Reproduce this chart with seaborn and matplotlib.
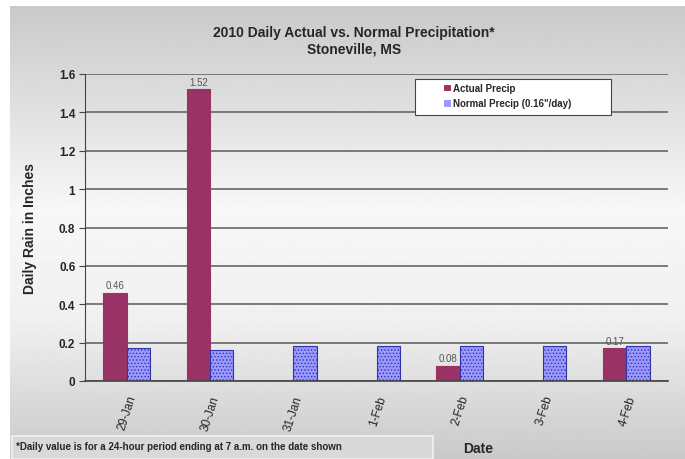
import numpy as np
import pandas as pd
import matplotlib
matplotlib.use("Agg")
import matplotlib.pyplot as plt
import seaborn as sns
from matplotlib.patches import Rectangle

dates = ['29-Jan', '30-Jan', '31-Jan', '1-Feb', '2-Feb', '3-Feb', '4-Feb']
actual = [0.46, 1.52, 0, 0, 0.08, 0, 0.17]
normal = [0.17, 0.16, 0.18, 0.18, 0.18, 0.18, 0.18]
series = ['Actual Precip', 'Normal Precip (0.16"/day)']
yticks = [0, 0.2, 0.4, 0.6, 0.8, 1, 1.2, 1.4, 1.6]

df = pd.DataFrame({
    'Date': dates * 2,
    'Rain': actual + normal,
    'Series': [series[0]] * len(dates) + [series[1]] * len(dates)
})

sns.set_style('white')
plt.rcParams['font.family'] = ['Liberation Sans', 'DejaVu Sans']
plt.rcParams['hatch.linewidth'] = 0.6
plt.rcParams['hatch.color'] = '#5555cc'

W, H = 685, 460
fig = plt.figure(figsize=(W / 100, H / 100), dpi=100)

# gray gradient background panel
bg = fig.add_axes([10 / W, 0, 1 - 10 / W, 1 - 7 / H])
rows = np.linspace(0, 1, 200)
shade = np.interp(rows, [0, 0.45, 0.7, 1], [0.79, 0.97, 0.94, 0.79])
bg.imshow(shade[:, None], aspect='auto', cmap='gray', vmin=0, vmax=1, extent=[0, 1, 0, 1])
bg.axis('off')

ax = fig.add_axes([85 / W, 1 - 382 / H, (668 - 85) / W, (382 - 75) / H])
ax.patch.set_alpha(0)

sns.barplot(data=df, x='Date', y='Rain', hue='Series', palette=['#993366', '#9999ff'],
            width=0.56, gap=0, saturation=1, ax=ax, linewidth=0.8)

for p in ax.containers[0]:
    p.set_edgecolor('#993366')
for p in ax.containers[1]:
    p.set_edgecolor('#3333aa')
    p.set_hatch('.....')

ax.bar_label(ax.containers[0], labels=[f'{v:.2f}' if v > 0 else '' for v in actual],
             fontsize=7, color='#555555', padding=2)

ax.set_ylim(0, 1.6)
ax.set_xlim(-0.5, len(dates) - 0.5)
ax.set_yticks(yticks)
ax.set_yticklabels([f'{v:g}' for v in yticks], fontsize=8.5, fontweight='bold')
ax.set_xticks(range(len(dates)))
ax.set_xticklabels(dates, rotation=72, ha='right', rotation_mode='anchor', fontsize=8.5)
ax.set_xticks(np.arange(-0.5, len(dates), 1), minor=True)
ax.tick_params(axis='x', which='major', length=0, pad=9)
ax.tick_params(axis='x', which='minor', length=6, direction='inout', color='#444444', width=1)
ax.tick_params(axis='y', length=4, color='#444444', left=True, pad=3)
ax.yaxis.grid(True, color='#666666', lw=1.2)
ax.set_axisbelow(True)
for s in ['top', 'right']:
    ax.spines[s].set_visible(False)
ax.spines['left'].set_color('#444444')
ax.spines['bottom'].set_color('#444444')
ax.spines['bottom'].set_linewidth(1.2)
ax.set_xlabel('')
ax.set_ylabel('')

# legend box drawn separately so it can be wider than its entries
ax.add_patch(Rectangle(((415 - 85) / 583, (382 - 116) / 307), (611 - 415) / 583, 36 / 307,
                       transform=ax.transAxes, facecolor='white', edgecolor='#444444',
                       lw=0.8, zorder=4))
leg = ax.legend(loc='upper left', bbox_to_anchor=((440 - 85) / 583, (382 - 81) / 307),
                frameon=False, handlelength=0.8, handleheight=0.8, handletextpad=0.2,
                borderpad=0.3, labelspacing=0.55, borderaxespad=0,
                prop={'weight': 'bold', 'size': 7})
leg.set_zorder(5)

fig.text(354 / W, 1 - 33 / H, '2010 Daily Actual vs. Normal Precipitation*',
         ha='center', va='center', fontsize=10, fontweight='bold')
fig.text(354 / W, 1 - 50 / H, 'Stoneville, MS',
         ha='center', va='center', fontsize=10, fontweight='bold')
fig.text(30 / W, 1 - 228 / H, 'Daily Rain in Inches', rotation=90,
         ha='center', va='center', fontsize=10, fontweight='bold')
fig.text(478 / W, 1 - 449 / H, 'Date', ha='center', va='center',
         fontsize=10, fontweight='bold')

fig.patches.append(Rectangle((12 / W, 0), (433 - 12) / W, (460 - 437) / H,
                             transform=fig.transFigure, facecolor='#d9d9d9',
                             edgecolor='#f2f2f2', lw=1.2))
fig.text(16 / W, 1 - 447 / H,
         '*Daily value is for a 24-hour period ending at 7 a.m. on the date shown',
         ha='left', va='center', fontsize=7, fontweight='bold')

fig.savefig('out.png', dpi=100)
